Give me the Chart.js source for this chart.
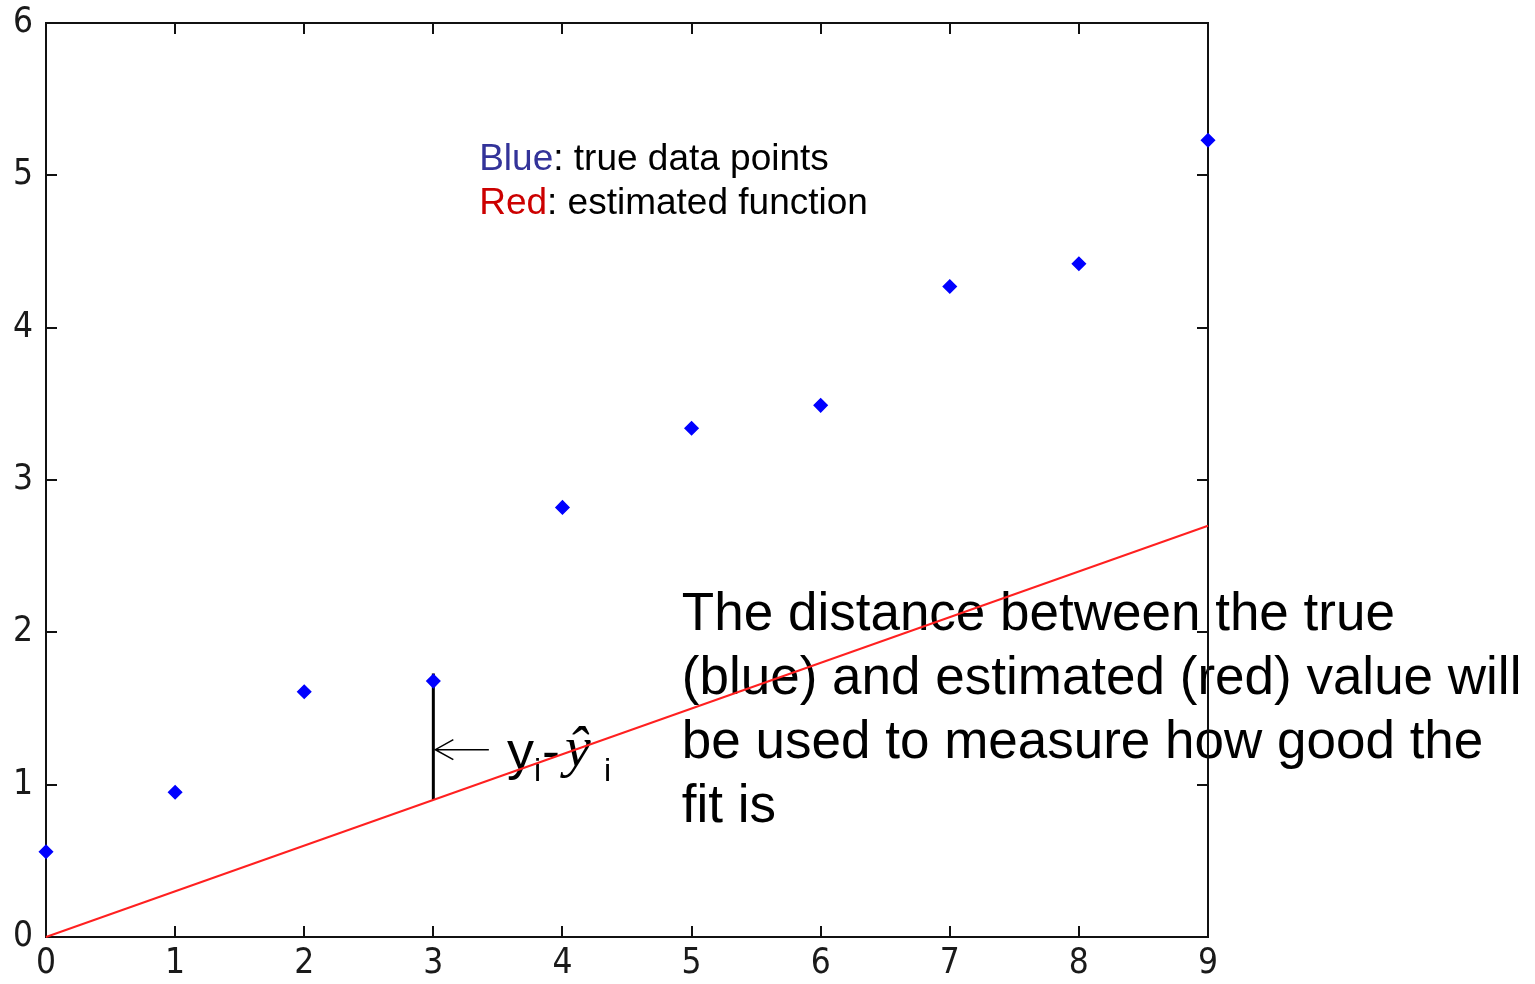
<!DOCTYPE html>
<html><head><meta charset="utf-8">
<script src="https://cdn.jsdelivr.net/npm/chart.js@4/dist/chart.umd.min.js"></script>
<style>html,body{margin:0;padding:0;background:#fff;overflow:hidden}#wrap{width:1535px;height:984px;position:relative}</style>
</head><body><div id="wrap"><canvas id="c"></canvas></div>
<script>
// ---- data ----
const xValues = [0, 1, 2, 3, 4, 5, 6, 7, 8, 9];
const yTrue   = [0.56, 0.95, 1.61, 1.68, 2.82, 3.34, 3.49, 4.27, 4.42, 5.23];
const fitX    = [0, 9];
const fitY    = [0, 2.7];
const xTickValues = [0, 1, 2, 3, 4, 5, 6, 7, 8, 9];
const yTickValues = [0, 1, 2, 3, 4, 5, 6];
// residual annotation (data coordinates)
const residualX = [3, 3];
const residualY = [0.9, 1.73];
const arrowX = [3.43, 3.0];
const arrowY = [1.23, 1.23];
const residualLabelPos = [3.57, 1.10];
// text annotations (data coordinates of first line)
const legendPos = [3.355, 5.035];
const legendLines = [["Blue", ": true data points", "#333399"], ["Red", ": estimated function", "#cc0000"]];
const notePos = [4.925, 2.015];
const noteLines = ["The distance between the true", "(blue) and estimated (red) value will", "be used to measure how good the", "fit is"];

const SANS = '"Liberation Sans", Arial, sans-serif';
const TICKFONT = '"Liberation Sans Narrow", "DejaVu Sans Condensed", "Liberation Sans", sans-serif';

const overlay = {
  id: 'overlay',
  beforeDatasetsDraw(chart) {
    const ctx = chart.ctx, xs = chart.scales.x, ys = chart.scales.y, a = chart.chartArea;
    ctx.save();
    // texts
    ctx.textBaseline = 'alphabetic';
    ctx.textAlign = 'left';
    ctx.font = '37px ' + SANS;
    let lx = xs.getPixelForValue(legendPos[0]), ly = ys.getPixelForValue(legendPos[1]);
    legendLines.forEach((l, i) => {
      const by = ly + i * 44;
      ctx.fillStyle = l[2];
      ctx.fillText(l[0], lx, by);
      const w = ctx.measureText(l[0]).width;
      ctx.fillStyle = '#000';
      ctx.fillText(l[1], lx + w, by);
    });
    ctx.font = '53px ' + SANS;
    ctx.fillStyle = '#000';
    let nx = xs.getPixelForValue(notePos[0]), ny = ys.getPixelForValue(notePos[1]);
    noteLines.forEach((t, i) => ctx.fillText(t, nx, ny + i * 64));
    // residual label  y_i - ŷ_i
    let rx = xs.getPixelForValue(residualLabelPos[0]), ry = ys.getPixelForValue(residualLabelPos[1]);
    ctx.font = '54px ' + SANS;
    ctx.fillText('y', rx, ry);
    ctx.font = '32px ' + SANS;
    ctx.fillText('i', rx + 27, ry + 12);
    ctx.font = '54px ' + SANS;
    ctx.fillText('-', rx + 35, ry);
    ctx.font = 'italic 58px "Liberation Serif", "Times New Roman", serif';
    ctx.fillText('\u0177', rx + 58, ry - 3);
    ctx.font = '32px ' + SANS;
    ctx.fillText('i', rx + 97, ry + 12);

    // residual vertical line
    ctx.strokeStyle = '#000';
    ctx.lineWidth = 3;
    ctx.beginPath();
    ctx.moveTo(xs.getPixelForValue(residualX[0]), ys.getPixelForValue(residualY[0]));
    ctx.lineTo(xs.getPixelForValue(residualX[1]), ys.getPixelForValue(residualY[1]));
    ctx.stroke();
    // arrow
    const ax0 = xs.getPixelForValue(arrowX[0]), ax1 = xs.getPixelForValue(arrowX[1]) + 2;
    const ay0 = ys.getPixelForValue(arrowY[0]), ay1 = ys.getPixelForValue(arrowY[1]);
    ctx.lineWidth = 1.5;
    ctx.beginPath();
    ctx.moveTo(ax0, ay0); ctx.lineTo(ax1, ay1);
    ctx.moveTo(ax1 + 18, ay1 - 10); ctx.lineTo(ax1, ay1); ctx.lineTo(ax1 + 18, ay1 + 10);
    ctx.stroke();

    // box
    ctx.strokeStyle = '#111';
    ctx.lineWidth = 2;
    ctx.strokeRect(a.left, a.top, a.right - a.left, a.bottom - a.top);
    // inward ticks on all sides
    const TL = 11;
    ctx.beginPath();
    xTickValues.forEach(v => {
      const px = Math.round(xs.getPixelForValue(v));
      ctx.moveTo(px, a.bottom); ctx.lineTo(px, a.bottom - TL);
      ctx.moveTo(px, a.top); ctx.lineTo(px, a.top + TL);
    });
    yTickValues.forEach(v => {
      const py = Math.round(ys.getPixelForValue(v));
      ctx.moveTo(a.left, py); ctx.lineTo(a.left + TL, py);
      ctx.moveTo(a.right, py); ctx.lineTo(a.right - TL, py);
    });
    ctx.stroke();
    ctx.restore();
  }
};

new Chart(document.getElementById('c'), {
  type: 'scatter',
  data: {
    datasets: [
      {
        label: 'estimated function',
        type: 'line',
        data: fitX.map((x, i) => ({ x, y: fitY[i] })),
        borderColor: '#ff2020',
        borderWidth: 2,
        pointRadius: 0,
        fill: false,
        clip: false,
        order: 2
      },
      {
        label: 'true data points',
        data: xValues.map((x, i) => ({ x, y: yTrue[i] })),
        backgroundColor: '#0000ff',
        borderColor: '#0000ff',
        borderWidth: 1.5,
        pointStyle: 'rectRot',
        pointRadius: 6.5,
        clip: false,
        order: 1
      }
    ]
  },
  options: {
    responsive: true,
    maintainAspectRatio: false,
    animation: false,
    events: [],
    layout: { padding: { top: 23, right: 327, left: 0, bottom: 0 } },
    plugins: { legend: { display: false }, tooltip: { enabled: false } },
    scales: {
      x: {
        type: 'linear', min: 0, max: 9,
        afterFit(s) { s.height = 47; s.paddingLeft = 0; s.paddingRight = 0; },
        afterBuildTicks(s) { s.ticks = xTickValues.map(v => ({ value: v })); },
        grid: { display: false, drawTicks: false },
        border: { display: false },
        ticks: { padding: 6, autoSkip: false, maxRotation: 0, color: '#1a1a1a',
                 font: { family: TICKFONT, size: 35 } }
      },
      y: {
        type: 'linear', min: 0, max: 6,
        afterFit(s) { s.width = 46; s.paddingTop = 0; s.paddingBottom = 0; },
        afterBuildTicks(s) { s.ticks = yTickValues.map(v => ({ value: v })); },
        grid: { display: false, drawTicks: false },
        border: { display: false },
        ticks: { padding: 13, autoSkip: false, color: '#1a1a1a',
                 font: { family: TICKFONT, size: 35 } }
      }
    }
  },
  plugins: [overlay]
});
</script>
</body></html>
